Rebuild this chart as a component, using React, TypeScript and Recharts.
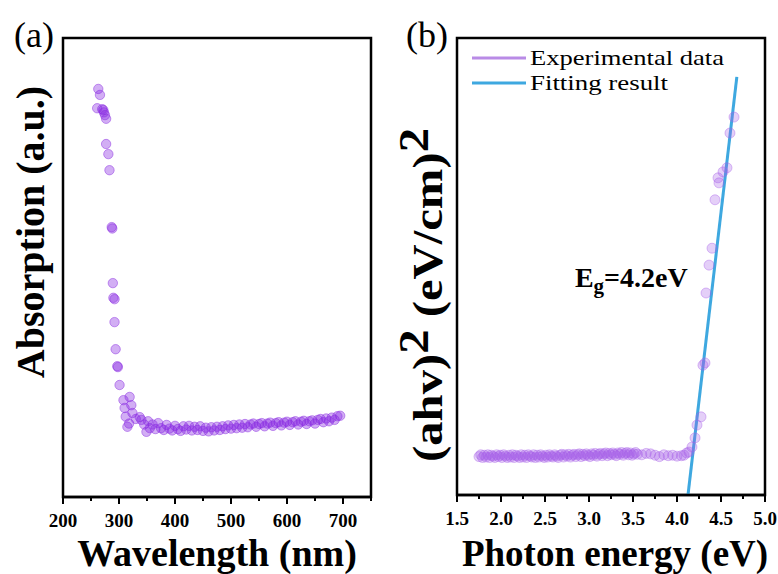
import React from 'react';
import {
  ScatterChart, ComposedChart, Scatter, Line, XAxis, YAxis, ReferenceArea, ReferenceDot, Legend,
} from 'recharts';

// (a) absorption spectrum
const absWavelength = [
  263, 266, 261, 270, 272, 273, 275, 277, 277, 281, 283, 287, 288, 289, 290, 292, 292, 294, 297, 298,
  301, 308, 310, 319, 315, 322, 324, 312, 318, 330, 337, 340, 345, 349, 352, 355,
  360, 365, 370, 375, 380, 385, 390, 395, 400, 405, 410, 415, 420, 425, 430, 435, 440, 445, 450, 455,
  460, 465, 470, 475, 480, 485, 490, 495, 500, 505, 510, 515, 520, 525, 530, 535, 540, 545, 550, 555,
  560, 565, 570, 575, 580, 585, 590, 595, 600, 605, 610, 615, 620, 625, 630, 635, 640, 645, 650, 655,
  660, 665, 670, 675, 680, 685, 690, 695,
];
const absValue = [
  0.889, 0.876, 0.847, 0.845, 0.843, 0.838, 0.832, 0.824, 0.769, 0.747, 0.712, 0.588, 0.585, 0.466, 0.434, 0.431, 0.381, 0.322, 0.285, 0.283,
  0.244, 0.211, 0.194, 0.218, 0.153, 0.2, 0.183, 0.175, 0.16, 0.17, 0.174, 0.168, 0.158, 0.142, 0.165, 0.15,
  0.158, 0.148, 0.161, 0.15, 0.146, 0.157, 0.149, 0.145, 0.155, 0.148, 0.144, 0.154, 0.147, 0.155, 0.145, 0.153, 0.146, 0.154, 0.144, 0.151,
  0.143, 0.152, 0.145, 0.153, 0.146, 0.154, 0.148, 0.156, 0.149, 0.157, 0.15, 0.158, 0.151, 0.159, 0.152, 0.158, 0.16, 0.153, 0.159, 0.161,
  0.154, 0.16, 0.162, 0.155, 0.161, 0.163, 0.156, 0.162, 0.164, 0.157, 0.163, 0.165, 0.158, 0.164, 0.166, 0.159, 0.165, 0.167, 0.16, 0.168,
  0.17, 0.163, 0.171, 0.165, 0.173, 0.168, 0.176, 0.177,
];

// (b) Tauc plot
const taucEnergy = [
  1.75, 1.77, 1.79, 1.81, 1.83, 1.85, 1.87, 1.89, 1.91, 1.93, 1.95, 1.97, 1.99, 2.01, 2.03, 2.05, 2.07, 2.09, 2.11, 2.13,
  2.15, 2.17, 2.19, 2.21, 2.23, 2.25, 2.27, 2.29, 2.31, 2.33, 2.35, 2.37, 2.39, 2.41, 2.43, 2.45, 2.47, 2.49, 2.51, 2.53,
  2.55, 2.57, 2.59, 2.61, 2.63, 2.65, 2.67, 2.69, 2.71, 2.73, 2.75, 2.77, 2.79, 2.81, 2.83, 2.85, 2.87, 2.89, 2.91, 2.93,
  2.95, 2.97, 2.99, 3.01, 3.03, 3.05, 3.07, 3.09, 3.11, 3.13, 3.15, 3.17, 3.19, 3.21, 3.23, 3.25, 3.27, 3.29, 3.31, 3.33,
  3.35, 3.37, 3.39, 3.41, 3.43, 3.45, 3.47, 3.49, 3.51, 3.53, 3.55, 3.6, 3.65, 3.7, 3.75, 3.8, 3.85, 3.9, 3.95, 4.0,
  4.05, 4.08, 4.11, 4.136, 4.17, 4.205, 4.227, 4.273, 4.295, 4.318, 4.33, 4.364, 4.398, 4.432, 4.466, 4.477, 4.523, 4.568,
  4.602, 4.648,
];
const taucValue = [
  0.084, 0.088, 0.082, 0.087, 0.083, 0.088, 0.082, 0.087, 0.085, 0.082, 0.088, 0.084, 0.087, 0.082, 0.088, 0.085, 0.082, 0.087, 0.083, 0.088,
  0.082, 0.087, 0.085, 0.082, 0.088, 0.083, 0.087, 0.082, 0.088, 0.085, 0.083, 0.088, 0.082, 0.087, 0.083, 0.088, 0.085, 0.082, 0.087, 0.083,
  0.088, 0.085, 0.083, 0.088, 0.085, 0.082, 0.087, 0.089, 0.083, 0.088, 0.085, 0.089, 0.083, 0.087, 0.089, 0.084, 0.088, 0.09, 0.084, 0.089,
  0.086, 0.09, 0.087, 0.084, 0.09, 0.087, 0.091, 0.085, 0.089, 0.091, 0.086, 0.09, 0.092, 0.086, 0.091, 0.088, 0.092, 0.089, 0.086, 0.092,
  0.089, 0.093, 0.087, 0.091, 0.093, 0.088, 0.092, 0.087, 0.09, 0.093, 0.089, 0.088, 0.091, 0.09, 0.087, 0.084, 0.088, 0.086, 0.087, 0.085,
  0.086, 0.087, 0.092, 0.094, 0.105, 0.125, 0.153, 0.171, 0.284, 0.289, 0.442, 0.503, 0.54, 0.646, 0.694, 0.683, 0.707, 0.716,
  0.792, 0.827,
];
const fitEnergy = [4.125, 4.68];
const fitValue = [0, 0.915];

const wlTicks = [200, 250, 300, 350, 400, 450, 500, 550, 600, 650, 700, 750];
const wlMajor = [200, 300, 400, 500, 600, 700];
const eTicks = [1.5, 1.75, 2.0, 2.25, 2.5, 2.75, 3.0, 3.25, 3.5, 3.75, 4.0, 4.25, 4.5, 4.75, 5.0];
const eMajor = [1.5, 2.0, 2.5, 3.0, 3.5, 4.0, 4.5, 5.0];

const absData = absWavelength.map((x, i) => ({ x, y: absValue[i] }));
const taucData = taucEnergy.map((x, i) => ({ x, y: taucValue[i] }));
const fitData = fitEnergy.map((x, i) => ({ x, y: fitValue[i] }));

const FONT = 'Liberation Serif';
const PURPLE = '#8a2be2';
const LAVENDER = '#a760e8';
const BLUE = '#3ea8e0';
// legend swatch colour and stretched text width per entry
const legendStyle: Record<string, { color: string; width: number }> = {
  'Experimental data': { color: '#b98be6', width: 194 },
  'Fitting result': { color: BLUE, width: 138 },
};

const AxisTick = ({ x, y, payload, majors, digits }: any) => {
  const major = majors.some((m: number) => Math.abs(m - payload.value) < 1e-6);
  return (
    <g>
      <line x1={x} x2={x} y1={y} y2={y + (major ? 7 : 4)} stroke="#000" strokeWidth={2} />
      {major && (
        <text x={x} y={y + 30} textAnchor="middle" fontFamily={FONT} fontWeight="bold" fontSize={19} fill="#000">
          {payload.value.toFixed(digits)}
        </text>
      )}
    </g>
  );
};

const Dot = ({ cx, cy, color, op, r }: any) => (
  <circle cx={cx} cy={cy} r={r} fill={color} fillOpacity={op} stroke={color} strokeOpacity={op + 0.1} strokeWidth={1} />
);

const LegendBox = ({ payload }: any) => (
  <svg width={270} height={52}>
    {(payload || []).map((entry: any, i: number) => {
      const s = legendStyle[entry.value] || { color: entry.color, width: 150 };
      const cy = 13 + i * 25;
      return (
        <g key={entry.value}>
          <line x1={0} x2={54} y1={cy} y2={cy} stroke={s.color} strokeWidth={3} />
          <text x={58} y={cy + 7} fontFamily={FONT} fontSize={22} fill="#000"
            textLength={s.width} lengthAdjust="spacingAndGlyphs">{entry.value}</text>
        </g>
      );
    })}
  </svg>
);

const EgLabel = ({ viewBox }: any) => (
  <text x={viewBox.x} y={viewBox.y} fontFamily={FONT} fontWeight="bold" fontSize={28} fill="#000">
    E<tspan fontSize={21} dy={6}>g</tspan><tspan dy={-6}>=4.2eV</tspan>
  </text>
);

// titles drawn on top of both charts
const Titles = () => (
  <svg width={778} height={574} style={{ position: 'absolute', left: 0, top: 0, pointerEvents: 'none' }}>
    <g fontFamily={FONT} fill="#000">
      <text x={14} y={47} fontSize={36}>(a)</text>
      <text x={406} y={47} fontSize={36}>(b)</text>
      <text x={217} y={566} textAnchor="middle" fontWeight="bold" fontSize={38}>Wavelength (nm)</text>
      <text x={615} y={566} textAnchor="middle" fontWeight="bold" fontSize={37}>Photon energy (eV)</text>
      <text x={30} y={232} transform="rotate(-90 30 232)" textAnchor="middle" dominantBaseline="central"
        fontWeight="bold" fontSize={40}>Absorption (a.u.)</text>
      <text x={428} y={295} transform="rotate(-90 428 295)" textAnchor="middle" dominantBaseline="central"
        fontWeight="bold" fontSize={42} textLength={334} lengthAdjust="spacingAndGlyphs">
        (ahv)<tspan dy={-14}>2</tspan><tspan dy={14}> (eV/cm)</tspan><tspan dy={-14}>2</tspan>
      </text>
    </g>
  </svg>
);

export default function App() {
  return (
    <div style={{ position: 'absolute', left: 0, top: 0, width: 778, height: 574, background: '#fff' }}>
      <div style={{ position: 'absolute', left: 0, top: 0 }}>
        <ScatterChart width={390} height={574} margin={{ top: 38, left: 63, right: 19, bottom: 0 }}>
          <XAxis type="number" dataKey="x" domain={[200, 750]} ticks={wlTicks} interval={0} height={77}
            allowDataOverflow tickSize={0} tickMargin={0} tickLine={false}
            axisLine={{ stroke: '#000', strokeWidth: 2.5 }}
            tick={(p: any) => <AxisTick {...p} majors={wlMajor} digits={0} />} />
          <YAxis type="number" dataKey="y" domain={[0, 1]} width={0} tick={false} tickLine={false} axisLine={false}
            allowDataOverflow />
          <Scatter data={absData} isAnimationActive={false}
            shape={(p: any) => <Dot {...p} color={PURPLE} op={0.38} r={4.7} />} />
          <ReferenceArea x1={200} x2={750} y1={0} y2={1} fill="none" stroke="#000" strokeWidth={2.5} />
        </ScatterChart>
      </div>
      <div style={{ position: 'absolute', left: 390, top: 0 }}>
        <ComposedChart width={388} height={574} margin={{ top: 38, left: 67, right: 13, bottom: 0 }}>
          <XAxis type="number" dataKey="x" domain={[1.5, 5.0]} ticks={eTicks} interval={0} height={79}
            allowDataOverflow tickSize={0} tickMargin={0} tickLine={false}
            axisLine={{ stroke: '#000', strokeWidth: 2.5 }}
            tick={(p: any) => <AxisTick {...p} majors={eMajor} digits={1} />} />
          <YAxis type="number" dataKey="y" domain={[0, 1]} width={0} tick={false} tickLine={false} axisLine={false}
            allowDataOverflow />
          <Legend layout="horizontal" align="center" verticalAlign="middle" content={(p: any) => <LegendBox {...p} />}
            wrapperStyle={{ left: 82, top: 45, width: 270, height: 52 }} />
          <Scatter name="Experimental data" data={taucData} fill={LAVENDER} isAnimationActive={false}
            shape={(p: any) => <Dot {...p} color={LAVENDER} op={0.3} r={5} />} />
          <Line name="Fitting result" data={fitData} dataKey="y" type="linear" stroke={BLUE} strokeWidth={3}
            dot={false} isAnimationActive={false} />
          <ReferenceDot x={2.84} y={0.455} r={0} fill="none" stroke="none"
            label={{ content: (p: any) => <EgLabel {...p} /> }} />
          <ReferenceArea x1={1.5} x2={5.0} y1={0} y2={1} fill="none" stroke="#000" strokeWidth={2.5} />
        </ComposedChart>
      </div>
      <Titles />
    </div>
  );
}
